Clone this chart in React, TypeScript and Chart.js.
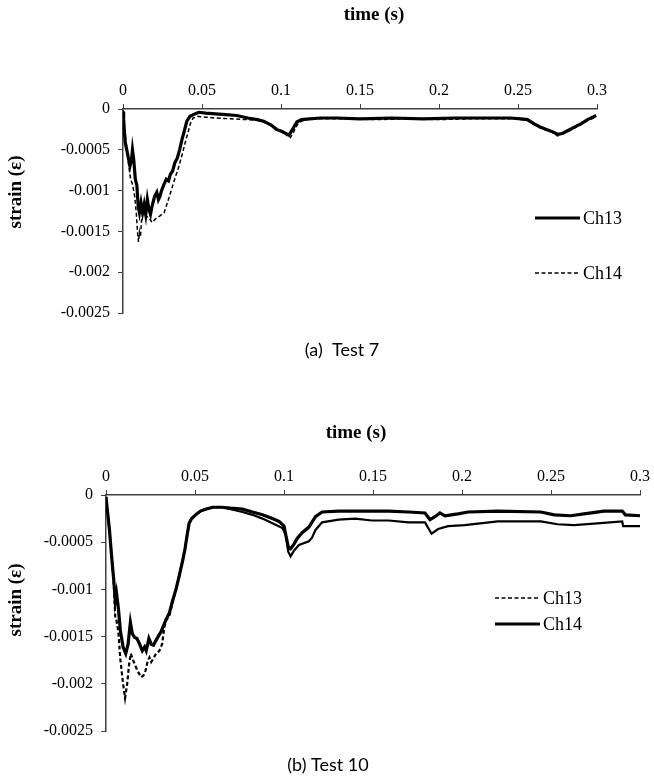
import React, { useEffect, useRef } from 'react';
import { Chart, registerables } from 'chart.js';

Chart.register(...registerables);

// ---------- axis ticks & labels ----------
const xTicks = [0, 0.05, 0.1, 0.15, 0.2, 0.25, 0.3];
const yTicks = [0, -0.0005, -0.001, -0.0015, -0.002, -0.0025];
const xTitle = 'time (s)';
const yTitle = 'strain (ε)';
const captionA = '(a)  Test 7';
const captionB = '(b) Test 10';
const seriesNames = ['Ch13', 'Ch14'];

// ---------- Test 7 data: [time (s), strain] ----------
const test7Ch13: [number, number][] = [
  [0, -0.00003], [0.0004, -0.00013], [0.0008, -0.00025], [0.0014, -0.00041], [0.0024, -0.0005],
  [0.0034, -0.0006], [0.0044, -0.0007], [0.0054, -0.00062], [0.006, -0.0005], [0.0068, -0.00062],
  [0.0078, -0.00086], [0.0088, -0.00094], [0.0096, -0.00119], [0.0104, -0.00127], [0.0114, -0.00115],
  [0.0124, -0.00127], [0.0134, -0.00117], [0.0144, -0.00129], [0.0154, -0.00111], [0.0164, -0.00123],
  [0.0174, -0.00129], [0.0184, -0.00119], [0.02, -0.00107], [0.0214, -0.00102], [0.0224, -0.00111],
  [0.0234, -0.00107], [0.0244, -0.001], [0.026, -0.00092], [0.0274, -0.00086], [0.0288, -0.00088],
  [0.03, -0.0008], [0.0314, -0.00076], [0.0328, -0.00066], [0.0344, -0.0006], [0.0358, -0.0005],
  [0.0374, -0.00037], [0.0388, -0.00027], [0.0404, -0.00015], [0.0424, -0.00009], [0.0454, -0.00006],
  [0.048, -0.00004], [0.0524, -0.00005], [0.0584, -0.00006], [0.065, -0.00007], [0.072, -0.00008],
  [0.079, -0.00011], [0.085, -0.00013], [0.089, -0.00015], [0.092, -0.00018], [0.094, -0.0002],
  [0.097, -0.00025], [0.1, -0.00027], [0.103, -0.0003], [0.105, -0.00032], [0.107, -0.00026],
  [0.11, -0.00016], [0.113, -0.00013], [0.118, -0.00012], [0.125, -0.00011], [0.135, -0.00011],
  [0.15, -0.00012], [0.17, -0.00011], [0.19, -0.00012], [0.21, -0.00011], [0.23, -0.00011],
  [0.245, -0.00011], [0.252, -0.00012], [0.256, -0.00013], [0.26, -0.00018], [0.264, -0.00022],
  [0.268, -0.00025], [0.272, -0.00028], [0.275, -0.00031], [0.278, -0.0003], [0.282, -0.00026],
  [0.286, -0.00022], [0.29, -0.00018], [0.294, -0.00013], [0.2995, -0.00008],
];

const test7Ch14: [number, number][] = [
  [0, -0.00001], [0.0008, -0.00021], [0.002, -0.00041], [0.0034, -0.00066], [0.0048, -0.00086],
  [0.006, -0.00092], [0.0074, -0.00107], [0.0084, -0.00127], [0.0092, -0.00151], [0.0098, -0.00163],
  [0.0104, -0.00151], [0.011, -0.00157], [0.0118, -0.00135], [0.0128, -0.00127], [0.0144, -0.00131],
  [0.0164, -0.00133], [0.0184, -0.00139], [0.0204, -0.00135], [0.0234, -0.00131], [0.026, -0.00127],
  [0.0274, -0.00119], [0.0294, -0.00107], [0.0314, -0.00094], [0.0334, -0.00082], [0.0354, -0.0007],
  [0.0374, -0.00056], [0.0394, -0.00041], [0.0414, -0.00027], [0.0428, -0.00017], [0.0444, -0.00011],
  [0.0474, -0.00009], [0.0524, -0.0001], [0.058, -0.00011], [0.068, -0.00012], [0.078, -0.00013],
  [0.086, -0.00014], [0.092, -0.00017], [0.096, -0.00022], [0.099, -0.00026], [0.102, -0.00028],
  [0.104, -0.00033], [0.106, -0.00035], [0.108, -0.00028], [0.111, -0.00017], [0.115, -0.00013],
  [0.125, -0.00012], [0.14, -0.00012], [0.16, -0.00013], [0.18, -0.00012], [0.2, -0.00013],
  [0.22, -0.00012], [0.245, -0.00012], [0.252, -0.00013], [0.256, -0.00014], [0.26, -0.00019],
  [0.264, -0.00023], [0.268, -0.00026], [0.272, -0.00029], [0.275, -0.00033], [0.278, -0.00031],
  [0.282, -0.00027], [0.286, -0.00023], [0.29, -0.00019], [0.294, -0.00014], [0.2995, -0.0001],
];

// ---------- Test 10 data: [time (s), strain] ----------
const test10Ch13: [number, number][] = [
  [0, -0.00002], [0.0007, -0.00015], [0.0019, -0.00036], [0.0031, -0.00064], [0.0044, -0.00095],
  [0.0052, -0.0013], [0.0059, -0.00133], [0.0069, -0.00144], [0.0081, -0.00175], [0.0096, -0.002],
  [0.0107, -0.00215], [0.0119, -0.002], [0.013, -0.00179], [0.0139, -0.00168], [0.0152, -0.00175],
  [0.0167, -0.00182], [0.0185, -0.00189], [0.0198, -0.00193], [0.0211, -0.00191], [0.0222, -0.00186],
  [0.0235, -0.00175], [0.0244, -0.00172], [0.0254, -0.00177], [0.0267, -0.00173], [0.0281, -0.00168],
  [0.03, -0.00165], [0.0315, -0.00158], [0.0328, -0.0014], [0.0337, -0.00133], [0.0356, -0.00128],
  [0.0374, -0.00114], [0.0393, -0.001], [0.0411, -0.00086], [0.043, -0.0007], [0.0444, -0.00057],
  [0.0457, -0.00041], [0.0467, -0.0003], [0.0481, -0.00025], [0.0504, -0.00021], [0.0531, -0.00017],
  [0.0559, -0.00015], [0.06, -0.00013], [0.065, -0.00013], [0.07, -0.00015], [0.0767, -0.00018],
  [0.0823, -0.00021], [0.0879, -0.00025], [0.0935, -0.0003], [0.0991, -0.00035], [0.101, -0.00042],
  [0.1024, -0.0006], [0.1037, -0.00065], [0.1056, -0.00059], [0.1084, -0.00053], [0.114, -0.00049],
  [0.1158, -0.00045], [0.1177, -0.00037], [0.1214, -0.00029], [0.1307, -0.00026], [0.14, -0.00025],
  [0.1493, -0.00027], [0.1587, -0.00027], [0.17, -0.00029], [0.1792, -0.00029], [0.1829, -0.00041],
  [0.1866, -0.00036], [0.1922, -0.00033], [0.2015, -0.00032], [0.2201, -0.00028], [0.2443, -0.00028],
  [0.2536, -0.00031], [0.263, -0.00032], [0.276, -0.0003], [0.29, -0.00028], [0.2905, -0.00033],
  [0.3, -0.00033],
];

const test10Ch14: [number, number][] = [
  [0, -0.00002], [0.0007, -0.00015], [0.0019, -0.00036], [0.0031, -0.00064], [0.0044, -0.00091],
  [0.0052, -0.00112], [0.0059, -0.00104], [0.0069, -0.00119], [0.0081, -0.00144], [0.0096, -0.00161],
  [0.0111, -0.00168], [0.0124, -0.00158], [0.0137, -0.00135], [0.0148, -0.00147], [0.0161, -0.00151],
  [0.0174, -0.00152], [0.0189, -0.00158], [0.0204, -0.00165], [0.0217, -0.00161], [0.0226, -0.00165],
  [0.0241, -0.00152], [0.0254, -0.00158], [0.0267, -0.00159], [0.0281, -0.00154], [0.0296, -0.00149],
  [0.0309, -0.00145], [0.0322, -0.00139], [0.0337, -0.00132], [0.0356, -0.00125], [0.0374, -0.00112],
  [0.0393, -0.001], [0.0411, -0.00086], [0.043, -0.0007], [0.0444, -0.00057], [0.0457, -0.00041],
  [0.0467, -0.0003], [0.0481, -0.00025], [0.0504, -0.00021], [0.0531, -0.00017], [0.0559, -0.00015],
  [0.06, -0.00013], [0.065, -0.00013], [0.07, -0.00014], [0.0767, -0.00015], [0.0823, -0.00018],
  [0.0879, -0.00021], [0.0935, -0.00025], [0.0972, -0.00028], [0.1, -0.00033], [0.1013, -0.00045],
  [0.1024, -0.00055], [0.1037, -0.00057], [0.1056, -0.00052], [0.1074, -0.00046], [0.1102, -0.0004],
  [0.114, -0.00034], [0.1177, -0.00023], [0.1214, -0.00018], [0.1307, -0.00017], [0.14, -0.00017],
  [0.1587, -0.00017], [0.17, -0.00018], [0.1792, -0.00019], [0.182, -0.00026], [0.1848, -0.00023],
  [0.1876, -0.00019], [0.1904, -0.00022], [0.1978, -0.0002], [0.2034, -0.00018], [0.2201, -0.00017],
  [0.2443, -0.00018], [0.2518, -0.00021], [0.2611, -0.00022], [0.2685, -0.0002], [0.2797, -0.00017],
  [0.29, -0.00017], [0.2918, -0.00021], [0.3, -0.00022],
];

// ---------- styling ----------
const SERIF = "'Liberation Serif', 'Times New Roman', serif";
const SANS = "Lato, 'Open Sans', sans-serif";
const AXIS = '#404040';

const toPts = (arr: [number, number][]) => arr.map(([x, y]) => ({ x, y }));

const overlayPlugin = {
  id: 'overlay',
  afterDraw(chart: any, _args: any, opts: any) {
    const ctx = chart.ctx as CanvasRenderingContext2D;
    (opts.texts || []).forEach((t: any) => {
      ctx.save();
      ctx.font = t.font;
      ctx.fillStyle = '#000';
      ctx.textAlign = 'center';
      ctx.textBaseline = 'middle';
      ctx.translate(t.x, t.y);
      if (t.rot) ctx.rotate(t.rot);
      ctx.fillText(t.text, 0, 0);
      ctx.restore();
    });
    const lg = opts.legend;
    if (lg) {
      lg.order.forEach((dsIndex: number, i: number) => {
        const ds = chart.data.datasets[dsIndex];
        const y = lg.ys[i];
        ctx.save();
        ctx.strokeStyle = '#000';
        ctx.lineWidth = ds.legendWidth || ds.borderWidth;
        ctx.setLineDash(ds.borderDash || []);
        ctx.beginPath();
        ctx.moveTo(lg.x0, y);
        ctx.lineTo(lg.x1, y);
        ctx.stroke();
        ctx.setLineDash([]);
        ctx.font = lg.font;
        ctx.fillStyle = '#000';
        ctx.textAlign = 'left';
        ctx.textBaseline = 'middle';
        ctx.fillText(ds.label, lg.x1 + 3, y + 1);
        ctx.restore();
      });
    }
  },
};

function makeConfig(datasets: any[], box: any, overlay: any) {
  const tickFont = { family: SERIF, size: 16 };
  const grid = {
    display: true,
    drawOnChartArea: false,
    drawTicks: true,
    tickLength: 5,
    color: AXIS,
    lineWidth: 1,
  };
  return {
    type: 'line',
    data: { datasets },
    plugins: [overlayPlugin],
    options: {
      responsive: false,
      animation: false,
      devicePixelRatio: 1,
      layout: { padding: { left: 0, top: 0, right: box.right, bottom: box.bottom } },
      elements: { point: { radius: 0 }, line: { tension: 0 } },
      plugins: {
        legend: { display: false },
        tooltip: { enabled: false },
        title: { display: false },
        overlay,
      },
      scales: {
        x: {
          type: 'linear',
          position: 'top',
          min: 0,
          max: 0.3,
          afterBuildTicks: (s: any) => { s.ticks = xTicks.map((v) => ({ value: v })); },
          afterFit: (s: any) => { s.height = box.top; },
          ticks: { callback: (v: any) => String(v), font: tickFont, color: '#000', padding: 4, maxRotation: 0, autoSkip: false },
          grid,
          border: { display: true, color: AXIS, width: 1.5 },
        },
        y: {
          type: 'linear',
          min: -0.0025,
          max: 0,
          afterBuildTicks: (s: any) => { s.ticks = yTicks.map((v) => ({ value: v })); },
          afterFit: (s: any) => { s.width = box.left; },
          ticks: { callback: (v: any) => String(v), font: tickFont, color: '#000', padding: 8, autoSkip: false },
          grid,
          border: { display: true, color: AXIS, width: 1.5 },
        },
      },
    },
  };
}

function ChartCanvas({ config, width, height, top }: any) {
  const ref = useRef<HTMLCanvasElement>(null);
  useEffect(() => {
    const chart = new Chart(ref.current as HTMLCanvasElement, config);
    return () => chart.destroy();
  }, []);
  return (
    <canvas
      ref={ref}
      width={width}
      height={height}
      style={{ position: 'absolute', left: 0, top, width, height }}
    />
  );
}

export default function App() {
  const cfgA = makeConfig(
    [
      { label: seriesNames[0], data: toPts(test7Ch13), borderColor: '#000', borderWidth: 3.2, borderDash: [] },
      { label: seriesNames[1], data: toPts(test7Ch14), borderColor: '#000', borderWidth: 1.5, borderDash: [4, 2.5] },
    ],
    { left: 123, top: 109, right: 57, bottom: 57 },
    {
      texts: [
        { text: xTitle, x: 374, y: 15, font: `bold 19px ${SERIF}` },
        { text: yTitle, x: 16, y: 192, rot: -Math.PI / 2, font: `bold 19px ${SERIF}` },
        { text: captionA, x: 342, y: 350, font: `18px ${SANS}` },
      ],
      legend: { order: [0, 1], ys: [218, 273], x0: 535, x1: 580, font: `18px ${SERIF}` },
    }
  );

  const cfgB = makeConfig(
    [
      {
        label: seriesNames[0], data: toPts(test10Ch13), borderColor: '#000', borderWidth: 2.2, legendWidth: 1.5,
        borderDash: [4, 2.5],
        segment: { borderDash: (c: any) => (c.p0.parsed.x > 0.045 ? [] : [4, 2.5]) },
      },
      { label: seriesNames[1], data: toPts(test10Ch14), borderColor: '#000', borderWidth: 3.2, borderDash: [] },
    ],
    { left: 106, top: 105, right: 11, bottom: 52 },
    {
      texts: [
        { text: xTitle, x: 356, y: 43, font: `bold 19px ${SERIF}` },
        { text: yTitle, x: 16, y: 210, rot: -Math.PI / 2, font: `bold 19px ${SERIF}` },
        { text: captionB, x: 328, y: 375, font: `18px ${SANS}` },
      ],
      legend: { order: [0, 1], ys: [208, 234], x0: 495, x1: 540, font: `18px ${SERIF}` },
    }
  );

  return (
    <div style={{ position: 'absolute', left: 0, top: 0, width: 654, height: 783, background: '#fff' }}>
      <ChartCanvas config={cfgA} width={654} height={370} top={0} />
      <ChartCanvas config={cfgB} width={654} height={393} top={390} />
    </div>
  );
}
